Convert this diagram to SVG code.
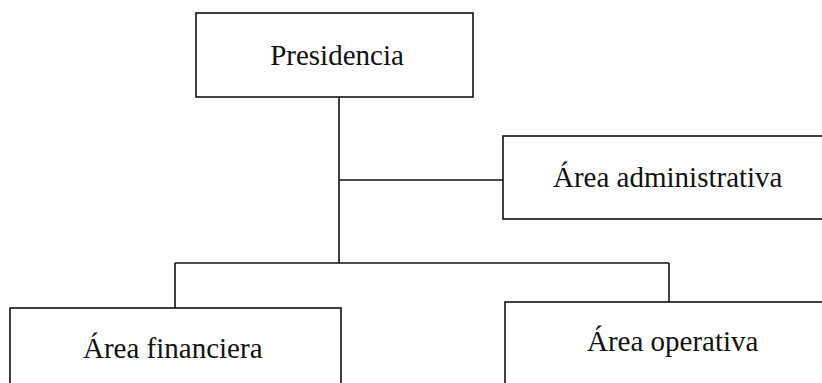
<svg xmlns="http://www.w3.org/2000/svg" width="822" height="383" viewBox="0 0 822 383">
<style>
.box{fill:#fff;stroke:#111;stroke-width:1.6}
.lbl{font-family:"Liberation Serif","Times New Roman",serif;font-size:29px;fill:#111}
.con{fill:none;stroke:#111;stroke-width:1.6}
</style>
<rect width="822" height="383" fill="#fff"/>
<g id="connectors">
<path class="con" d="M339 97 V263"/>
<path class="con" d="M339 180 H503"/>
<path class="con" d="M175 263 H669"/>
<path class="con" d="M175 263 V308"/>
<path class="con" d="M669 263 V302"/>
</g>
<g id="presidencia">
<rect class="box" x="196" y="13" width="277" height="84"/>
<text class="lbl" x="337" y="65" text-anchor="middle">Presidencia</text>
</g>
<g id="area-administrativa">
<rect class="box" x="503" y="136" width="330" height="83"/>
<text class="lbl" x="553" y="187">Área administrativa</text>
</g>
<g id="area-financiera">
<rect class="box" x="10" y="308" width="331" height="90"/>
<text class="lbl" x="83" y="358">Área financiera</text>
</g>
<g id="area-operativa">
<rect class="box" x="505" y="302" width="330" height="96"/>
<text class="lbl" x="587" y="351">Área operativa</text>
</g>
</svg>
